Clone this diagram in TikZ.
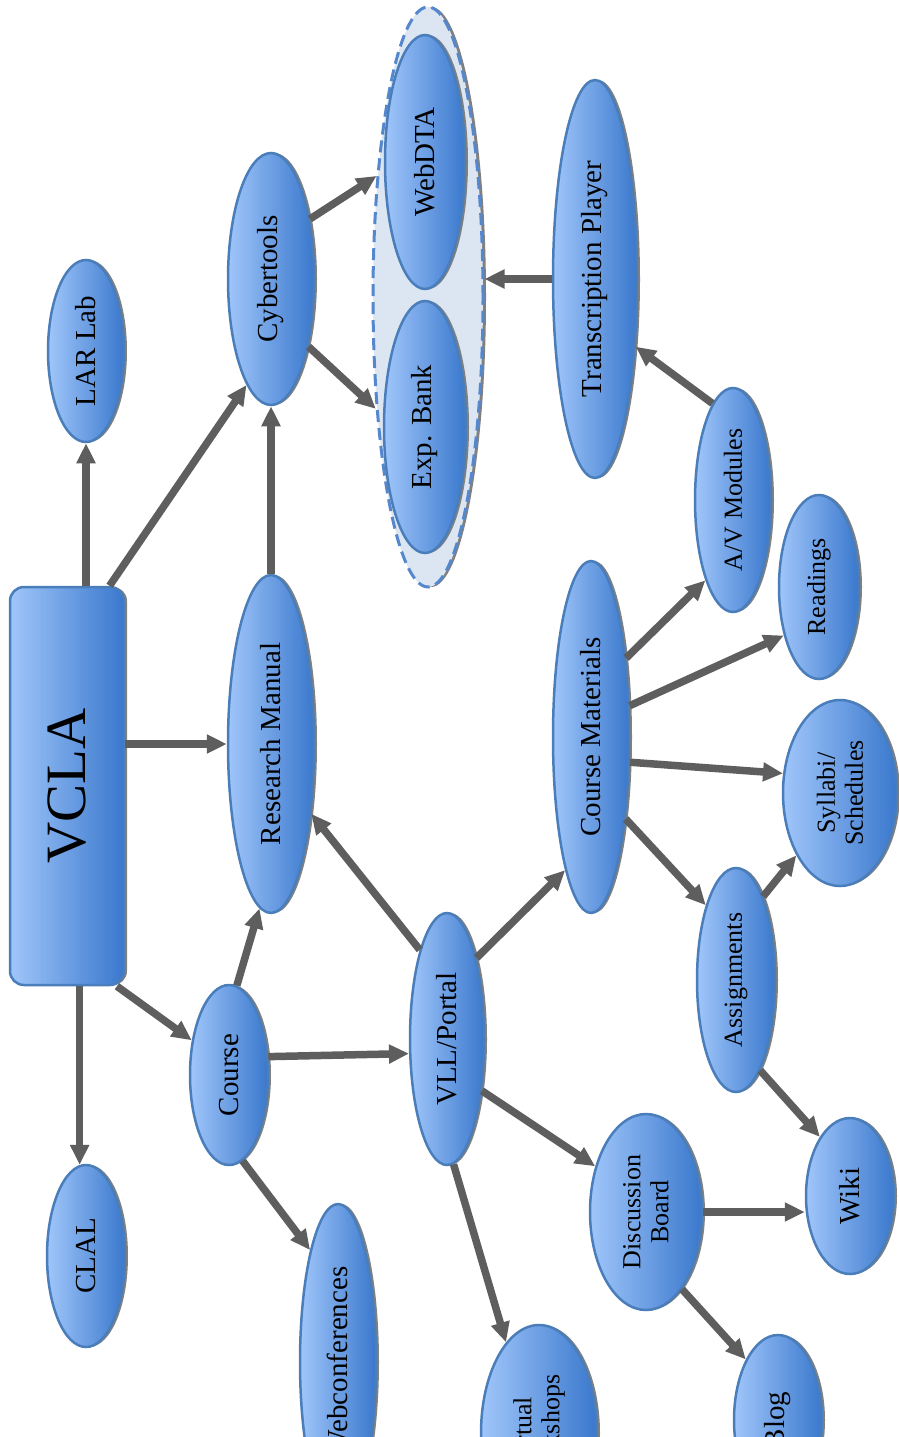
\documentclass[tikz,border=0pt]{standalone}
\usepackage{fontspec}
\setmainfont{Liberation Serif}
\usetikzlibrary{shapes.geometric,shadows,arrows.meta}
\definecolor{lightb}{RGB}{160,198,250}
\definecolor{darkb}{RGB}{58,120,205}
\definecolor{bord}{RGB}{74,126,187}
\definecolor{arr}{RGB}{94,94,94}
\definecolor{shad}{RGB}{128,128,128}
\definecolor{grpfill}{RGB}{220,230,242}
\definecolor{grpline}{RGB}{85,135,205}
\begin{document}
\begin{tikzpicture}[x=1pt,y=-1pt,
 shd/.style={drop shadow={shadow xshift=3pt, shadow yshift=0pt, fill=shad, opacity=1}},
 ell/.style={ellipse, draw=bord, line width=2.5pt, left color=lightb, right color=darkb, inner sep=0pt, shd},
 lbl/.style={rotate=90, font=\fontsize{29}{32}\selectfont, align=center, inner sep=0pt},
 slbl/.style={rotate=90, font=\fontsize{26}{28}\selectfont, align=center, inner sep=0pt},
 con/.style={draw=arr, line width=7.5pt, -{Triangle[width=18pt,length=20pt]}},
]
\clip (0,0) rectangle (899,1437);
\fill[white] (0,0) rectangle (899,1437);

% group
\node[ellipse, draw=grpline, dash pattern=on 12pt off 6pt, line width=3pt, fill=grpfill, shd,
      minimum width=110pt, minimum height=580pt, inner sep=0pt] (grp) at (428,297) {};

% main box
\node[draw=bord, line width=2.5pt, left color=lightb, right color=darkb, rounded corners=14pt,
      minimum width=114pt, minimum height=398pt, inner sep=0pt, shd,
      label={[rotate=90, font=\fontsize{57}{60}\selectfont, inner sep=0pt]center:VCLA}] (vcla) at (67,786) {};

\node[ell, minimum width=76pt, minimum height=182pt, label={[lbl]center:LAR Lab}] (lar) at (86,351) {};
\node[ell, minimum width=78pt, minimum height=182pt, label={[lbl]center:CLAL}] (clal) at (86,1256) {};
\node[ell, minimum width=86pt, minimum height=252pt, label={[lbl]center:Cybertools}] (cyber) at (271,279) {};
\node[ell, minimum width=86pt, minimum height=338pt, label={[lbl]center:Research Manual}] (rm) at (271,744) {};
\node[ell, minimum width=78pt, minimum height=180pt, label={[lbl]center:Course}] (course) at (229,1075) {};
\node[ell, minimum width=76pt, minimum height=316pt, label={[lbl]center:Webconferences}] (webc) at (338,1362) {};
\node[ell, minimum width=116pt, minimum height=216pt, label={[slbl]center:{Virtual\\Workshops}}] (vw) at (539,1433) {};
\node[ell, minimum width=88pt, minimum height=170pt, label={[lbl]center:Blog}] (blog) at (778,1420) {};
\node[ell, minimum width=74pt, minimum height=252pt, label={[lbl]center:VLL/Portal}] (vll) at (447,1039) {};
\node[ell, minimum width=112pt, minimum height=196pt, label={[slbl]center:{Discussion\\Board}}] (disc) at (646,1212) {};
\node[ell, minimum width=88pt, minimum height=156pt, label={[lbl]center:Wiki}] (wiki) at (850,1196) {};
\node[ell, minimum width=78pt, minimum height=224pt, label={[slbl]center:Assignments}] (assign) at (736,980) {};
\node[ell, minimum width=114pt, minimum height=186pt, label={[slbl]center:{Syllabi/\\Schedules}}] (syll) at (840,793) {};
\node[ell, minimum width=80pt, minimum height=184pt, label={[slbl]center:Readings}] (read) at (819,587) {};
\node[ell, minimum width=76pt, minimum height=352pt, label={[lbl]center:Course Materials}] (cmat) at (591,737) {};
\node[ell, minimum width=76pt, minimum height=224pt, label={[slbl]center:A/V Modules}] (av) at (733,500) {};
\node[ell, minimum width=84pt, minimum height=398pt, label={[lbl]center:Transcription Player}] (trans) at (595,279) {};
\node[ell, minimum width=80pt, minimum height=254pt, label={[lbl]center:WebDTA}] (webdta) at (425,162) {};
\node[ell, minimum width=82pt, minimum height=252pt, label={[lbl]center:Exp. Bank}] (exp) at (425,427) {};

% connectors
\path[con] (vcla.north -| lar.south) -- (lar.south);
\path[con] (vcla.78) -- (cyber.257);
\path[con] (vcla.east |- rm.west) -- (rm.west);
\path[con] (vcla.south -| clal.94) -- (clal.94);
\path[con] (vcla.-76) -- (course.137);
\path[con] (rm.north) -- (cyber.south);
\path[con] (cyber.57) -- (grp.113);
\path[con] (cyber.-61) -- (grp.245);
\path[con] (trans.west) -- (trans.west -| grp.east);
\path[con] (av.102) -- (trans.-59);
\path[con] (cmat.66) -- (av.251);
\path[con] (cmat.39) -- (read.234);
\path[con] (cmat.-33) -- (syll.161);
\path[con] (cmat.-67) -- (assign.112);
\path[con] (assign.72) -- (syll.235);
\path[con] (assign.-75) -- (wiki.117);
\path[con] (disc.east) -- (disc.east -| wiki.west);
\path[con] (disc.-65) -- (blog.118);
\path[con] (vll.-56) -- (disc.138);
\path[con] (vll.-87) -- (vw.110);
\path[con] (vll.70) -- (cmat.259);
\path[con] (vll.107) -- (rm.-60);
\path[con] (course.85) -- (rm.266);
\path[con] (course.25) -- (vll.201);
\path[con] (course.-81) -- (webc.104);
\end{tikzpicture}
\end{document}
